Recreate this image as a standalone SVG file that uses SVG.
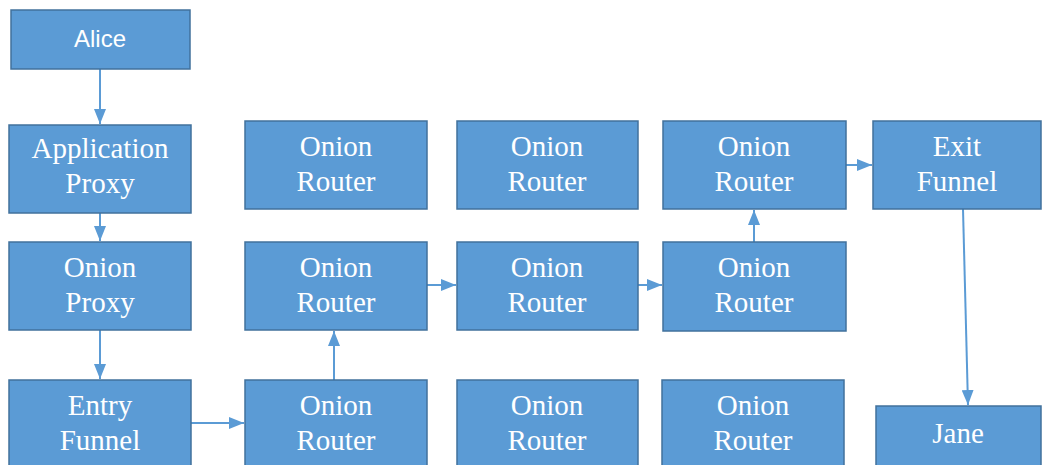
<svg xmlns="http://www.w3.org/2000/svg" width="1048" height="465" viewBox="0 0 1048 465">
  <style>
    .box { fill: #5b9bd5; stroke: #41719c; stroke-width: 1.5; }
    .lbl { fill: #ffffff; font-family: "Liberation Serif", "Times New Roman", serif; font-size: 29px; text-anchor: middle; }
    .sans { fill: #ffffff; font-family: "Liberation Sans", Arial, sans-serif; font-size: 24px; text-anchor: middle; }
    .edge { stroke: #5b9bd5; stroke-width: 2; fill: none; marker-end: url(#arrow); }
  </style>
  <defs>
    <marker id="arrow" viewBox="0 0 15 12" refX="15" refY="6" markerWidth="15" markerHeight="12" markerUnits="userSpaceOnUse" orient="auto">
      <path d="M0,0 L15,6 L0,12 Z" fill="#5b9bd5"/>
    </marker>
  </defs>
  <rect width="1048" height="465" fill="#ffffff"/>

  <g id="connectors">
    <line class="edge" x1="100" y1="69" x2="100" y2="124"/>
    <line class="edge" x1="100" y1="213" x2="100" y2="241"/>
    <line class="edge" x1="100" y1="330" x2="100" y2="379"/>
    <line class="edge" x1="191" y1="423" x2="244" y2="423"/>
    <line class="edge" x1="334" y1="380" x2="334" y2="331"/>
    <line class="edge" x1="427" y1="285" x2="456" y2="285"/>
    <line class="edge" x1="638" y1="285" x2="662" y2="285"/>
    <line class="edge" x1="754" y1="242" x2="754" y2="210"/>
    <line class="edge" x1="846" y1="165" x2="872" y2="165"/>
    <line class="edge" x1="963" y1="209" x2="968" y2="405"/>
  </g>

  <g id="alice">
    <rect class="box" x="11" y="10" width="179" height="59"/>
    <text class="sans" x="100" y="47">Alice</text>
  </g>
  <g id="application-proxy">
    <rect class="box" x="9" y="125" width="182" height="88"/>
    <text class="lbl" x="100" y="158">Application</text>
    <text class="lbl" x="100" y="193">Proxy</text>
  </g>
  <g id="onion-proxy">
    <rect class="box" x="9" y="242" width="182" height="88"/>
    <text class="lbl" x="100" y="277">Onion</text>
    <text class="lbl" x="100" y="312">Proxy</text>
  </g>
  <g id="entry-funnel">
    <rect class="box" x="9" y="380" width="182" height="90"/>
    <text class="lbl" x="100" y="415">Entry</text>
    <text class="lbl" x="100" y="450">Funnel</text>
  </g>

  <g id="router-1-1">
    <rect class="box" x="245" y="121" width="182" height="88"/>
    <text class="lbl" x="336" y="156">Onion</text>
    <text class="lbl" x="336" y="191">Router</text>
  </g>
  <g id="router-1-2">
    <rect class="box" x="245" y="242" width="182" height="88"/>
    <text class="lbl" x="336" y="277">Onion</text>
    <text class="lbl" x="336" y="312">Router</text>
  </g>
  <g id="router-1-3">
    <rect class="box" x="245" y="380" width="182" height="90"/>
    <text class="lbl" x="336" y="415">Onion</text>
    <text class="lbl" x="336" y="450">Router</text>
  </g>

  <g id="router-2-1">
    <rect class="box" x="457" y="121" width="181" height="88"/>
    <text class="lbl" x="547" y="156">Onion</text>
    <text class="lbl" x="547" y="191">Router</text>
  </g>
  <g id="router-2-2">
    <rect class="box" x="457" y="242" width="181" height="88"/>
    <text class="lbl" x="547" y="277">Onion</text>
    <text class="lbl" x="547" y="312">Router</text>
  </g>
  <g id="router-2-3">
    <rect class="box" x="457" y="380" width="181" height="90"/>
    <text class="lbl" x="547" y="415">Onion</text>
    <text class="lbl" x="547" y="450">Router</text>
  </g>

  <g id="router-3-1">
    <rect class="box" x="663" y="121" width="183" height="88"/>
    <text class="lbl" x="754" y="156">Onion</text>
    <text class="lbl" x="754" y="191">Router</text>
  </g>
  <g id="router-3-2">
    <rect class="box" x="663" y="242" width="183" height="89"/>
    <text class="lbl" x="754" y="277">Onion</text>
    <text class="lbl" x="754" y="312">Router</text>
  </g>
  <g id="router-3-3">
    <rect class="box" x="662" y="380" width="182" height="90"/>
    <text class="lbl" x="753" y="415">Onion</text>
    <text class="lbl" x="753" y="450">Router</text>
  </g>

  <g id="exit-funnel">
    <rect class="box" x="873" y="121" width="168" height="88"/>
    <text class="lbl" x="957" y="156">Exit</text>
    <text class="lbl" x="957" y="191">Funnel</text>
  </g>
  <g id="jane">
    <rect class="box" x="876" y="406" width="165" height="64"/>
    <text class="lbl" x="958" y="443">Jane</text>
  </g>
</svg>
